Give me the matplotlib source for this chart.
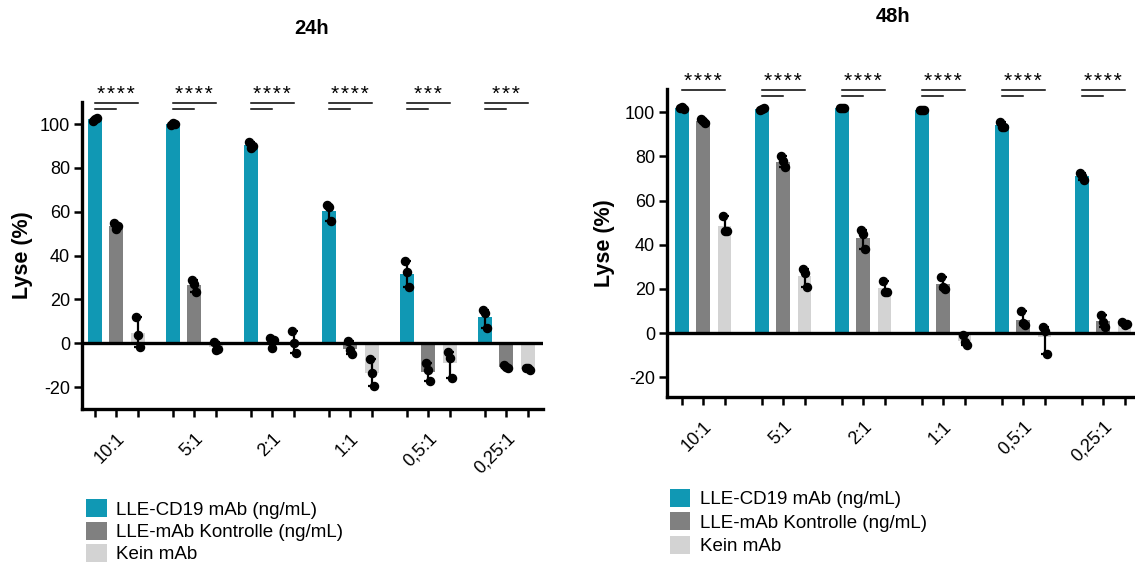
import numpy as np
import matplotlib
matplotlib.use("Agg")
import matplotlib.pyplot as plt
from matplotlib.patches import Patch

plt.rcParams['font.family'] = ['Liberation Sans', 'DejaVu Sans']
plt.rcParams['axes.unicode_minus'] = False

# E:T ratios
ratios = ["10:1", "5:1", "2:1", "1:1", "0,5:1", "0,25:1"]
series_names = ["LLE-CD19 mAb (ng/mL)", "LLE-mAb Kontrolle (ng/mL)", "Kein mAb"]
series_colors = ["#1098b4", "#808080", "#d3d3d3"]

# replicate values (3 per ratio), 24h
lyse_24h_cd19 = [[101.5, 102.5, 103], [99.5, 100.5, 100], [92, 89, 90],
                 [63, 62, 55.7], [37.4, 32.4, 25.6], [15, 13.7, 6.8]]
lyse_24h_ctrl = [[55, 52, 53.5], [29, 27, 23.5], [2.3, -2, 1.5],
                 [0.9, -3.2, -5], [-9.1, -12.3, -17.4], [-10, -11, -11.5]]
lyse_24h_none = [[11.9, 3.7, -1.8], [0.5, -3, -2.5], [5.5, 0, -4.6],
                 [-7, -13.7, -19.6], [-4, -6.5, -16], [-11.4, -11.5, -12]]
stars_24h = ["****", "****", "****", "****", "***", "***"]

# replicate values, 48h
lyse_48h_cd19 = [[102, 102.5, 101.5], [101, 101.5, 102], [102, 102, 102],
                 [101, 101, 101], [95.4, 93.5, 93.5], [72.7, 71, 69.5]]
lyse_48h_ctrl = [[97, 96, 95], [80, 78, 75], [46.5, 45, 38],
                 [25.5, 21, 20], [10, 4.5, 3.6], [8, 5, 2.7]]
lyse_48h_none = [[53, 46, 46], [29, 27.3, 21], [23.5, 18.5, 18.5],
                 [-1, -4, -5.5], [2.7, 1, -9.5], [5, 3.6, 4]]
stars_48h = ["****", "****", "****", "****", "****", "****"]
short_line_48h = [False, True, True, True, True, True]


def panel(ax, data, stars, short_line, group_step, xlim, ylim, ylong, yshort):
    offs = [-0.1, 0.0, 0.1]
    for j, (vals, col) in enumerate(zip(data, series_colors)):
        vals = np.array(vals)
        x = np.arange(len(ratios)) * group_step + j
        means = vals.mean(axis=1)
        ax.bar(x, means, width=0.64, color=col, zorder=1)
        err = [means - vals.min(axis=1), vals.max(axis=1) - means]
        ax.errorbar(x, means, yerr=err, fmt='none', ecolor='black',
                    elinewidth=1.6, capsize=3, capthick=1.6, zorder=4)
        for k in range(vals.shape[1]):
            ax.scatter(x + offs[k], vals[:, k], s=34, color='black', zorder=5)
    ax.axhline(0, color='black', lw=2.4, zorder=3)

    # significance brackets
    for g, st in enumerate(stars):
        x0 = g * group_step
        ax.plot([x0, x0 + 2], [ylong, ylong], color='black', lw=1.1, clip_on=False)
        if short_line[g]:
            ax.plot([x0, x0 + 1], [yshort, yshort], color='black', lw=1.1, clip_on=False)
        ax.text(x0 + 1, ylong - 0.6, "\u200a".join(st), ha='center', va='bottom',
                fontsize=15, clip_on=False)

    ticks = [g * group_step + j for g in range(len(ratios)) for j in range(3)]
    labels = [ratios[g] if j == 1 else "" for g in range(len(ratios)) for j in range(3)]
    ax.set_xticks(ticks)
    ax.set_xticklabels(labels, rotation=45, ha='right', va='top',
                       rotation_mode='anchor', fontsize=13)
    ax.set_xlim(*xlim)
    ax.set_ylim(*ylim)
    ax.set_yticks([-20, 0, 20, 40, 60, 80, 100])
    ax.tick_params(axis='y', labelsize=13, length=5.5, width=1.8, pad=3)
    ax.tick_params(axis='x', length=6, width=1.8, pad=9)
    for s in ['top', 'right']:
        ax.spines[s].set_visible(False)
    for s in ['left', 'bottom']:
        ax.spines[s].set_linewidth(2.4)
    ax.set_ylabel("Lyse (%)", fontsize=15.5, fontweight='bold')


fig = plt.figure(figsize=(11.35, 5.63), dpi=100)

ax1 = fig.add_axes([0.0722, 0.2735, 0.406, 0.545])
panel(ax1, [lyse_24h_cd19, lyse_24h_ctrl, lyse_24h_none], stars_24h,
      [True] * 6, 3.63, (-0.6, 20.85), (-30, 110), 109.6, 106.8)
ax1.yaxis.set_label_coords(-0.106, 0.5)

ax2 = fig.add_axes([0.5877, 0.2948, 0.412, 0.547])
panel(ax2, [lyse_48h_cd19, lyse_48h_ctrl, lyse_48h_none], stars_48h,
      short_line_48h, 3.75, (-0.7, 21.22), (-29, 110.5), 110, 107.3)
ax2.yaxis.set_label_coords(-0.111, 0.5)

fig.text(312 / 1135, 1 - 28 / 563, "24h", ha='center', va='center',
         fontsize=14.5, fontweight='bold')
fig.text(893 / 1135, 1 - 17 / 563, "48h", ha='center', va='center',
         fontsize=14.5, fontweight='bold')

handles = [Patch(facecolor=c, edgecolor='none') for c in series_colors]
fig.legend(handles, series_names, loc='upper left', bbox_to_anchor=(0.0758, 0.113),
           frameon=False, fontsize=13.5, handlelength=1.1, handleheight=1.1,
           handletextpad=0.5, labelspacing=0.15, borderpad=0, borderaxespad=0)
fig.legend(handles, series_names, loc='upper left', bbox_to_anchor=(0.590, 0.132),
           frameon=False, fontsize=13.5, handlelength=1.1, handleheight=1.1,
           handletextpad=0.5, labelspacing=0.22, borderpad=0, borderaxespad=0)

fig.savefig("out.png", dpi=100)
